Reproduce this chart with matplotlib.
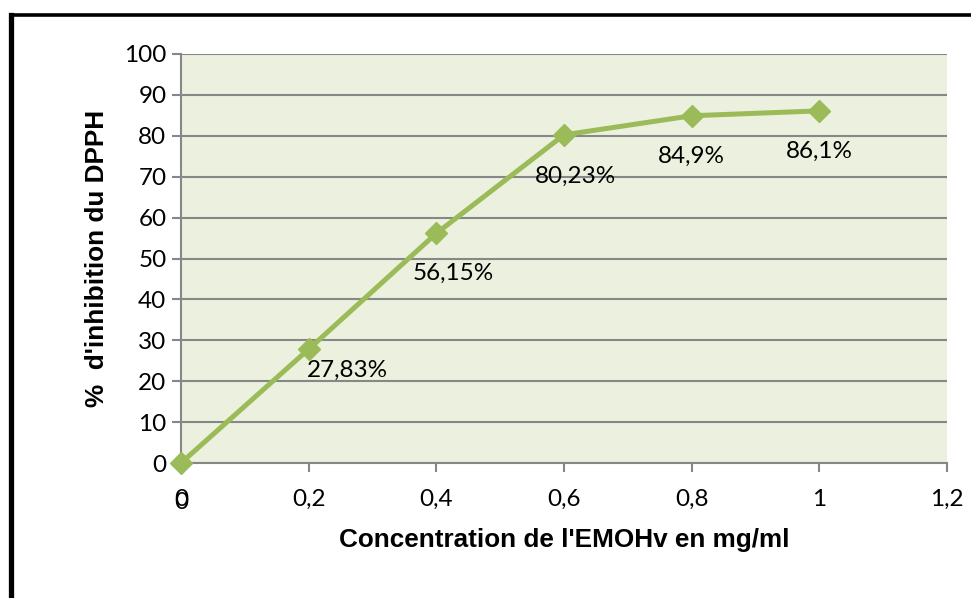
import matplotlib
matplotlib.use("Agg")
import matplotlib.pyplot as plt
from matplotlib.lines import Line2D

# DPPH radical scavenging of the EMOHv extract
concentrations = [0, 0.2, 0.4, 0.6, 0.8, 1.0]
inhibition = [0, 27.83, 56.15, 80.23, 84.9, 86.1]
point_labels = ["", "27,83%", "56,15%", "80,23%", "84,9%", "86,1%"]
x_ticks = [0, 0.2, 0.4, 0.6, 0.8, 1.0, 1.2]
x_tick_labels = ["0", "0,2", "0,4", "0,6", "0,8", "1", "1,2"]
y_ticks = list(range(0, 101, 10))

# label offsets in points (dx, dy) from each marker
label_offsets = [(0, 0), (28, -15), (12, -29), (8, -30), (0, -29), (0, -29)]

GREEN = "#9BBB59"
PANEL = "#EBF1DE"
GRID = "#878787"
TICK_FONT = "Lato"
TITLE_FONT = "Liberation Sans"
TICK_SIZE = 17.5
TITLE_SIZE = 18.8

fig = plt.figure(figsize=(9.71, 5.98), dpi=100)
ax = fig.add_axes([181 / 971, 1 - 463 / 598, 766 / 971, 409 / 598])
ax.set_facecolor(PANEL)

ax.plot(concentrations, inhibition, color=GREEN, lw=3.6, marker="D",
        markersize=11.5, markerfacecolor=GREEN, markeredgecolor=GREEN,
        solid_joinstyle="miter", clip_on=False, zorder=5)

for x, y, txt, (dx, dy) in zip(concentrations, inhibition, point_labels, label_offsets):
    if txt:
        ax.annotate(txt, (x, y), xytext=(dx, dy), textcoords="offset points",
                    ha="center", va="center", fontsize=TICK_SIZE, family=TICK_FONT,
                    color="black", zorder=6)

ax.set_xlim(0, 1.2)
ax.set_ylim(0, 100)
ax.set_xticks(x_ticks)
ax.set_xticklabels(x_tick_labels)
ax.set_yticks(y_ticks)

ax.grid(axis="y", color=GRID, lw=1.5)
ax.set_axisbelow(True)
for side in ("top", "right"):
    ax.spines[side].set_visible(False)
for side in ("left", "bottom"):
    ax.spines[side].set_color(GRID)
    ax.spines[side].set_linewidth(1.5)

ax.tick_params(axis="both", direction="out", length=6.5, width=1.5, color=GRID,
               labelsize=TICK_SIZE, pad=4)
ax.tick_params(axis="x", pad=12)
for lab in ax.get_xticklabels() + ax.get_yticklabels():
    lab.set_family(TICK_FONT)

# the doubled zero under the origin
ax.annotate("0", (0, 0), xytext=(0, -28.5), textcoords="offset points",
            ha="center", va="center", fontsize=TICK_SIZE, family=TICK_FONT)

ax.set_xlabel("Concentration de l'EMOHv en mg/ml", fontsize=TITLE_SIZE,
              fontweight="bold", family=TITLE_FONT, labelpad=13)
ax.set_ylabel("%  d'inhibition du DPPH", fontsize=TITLE_SIZE, fontweight="bold",
              family=TITLE_FONT, labelpad=11)

# black frame around the chart
fig.add_artist(Line2D([10.5 / 971, 10.5 / 971], [0, 1 - 14.5 / 598],
                      transform=fig.transFigure, color="black", lw=3.8,
                      solid_capstyle="projecting"))
fig.add_artist(Line2D([10.5 / 971, 1], [1 - 14.5 / 598, 1 - 14.5 / 598],
                      transform=fig.transFigure, color="black", lw=2.6,
                      solid_capstyle="projecting"))

fig.savefig("out.png", dpi=100)
